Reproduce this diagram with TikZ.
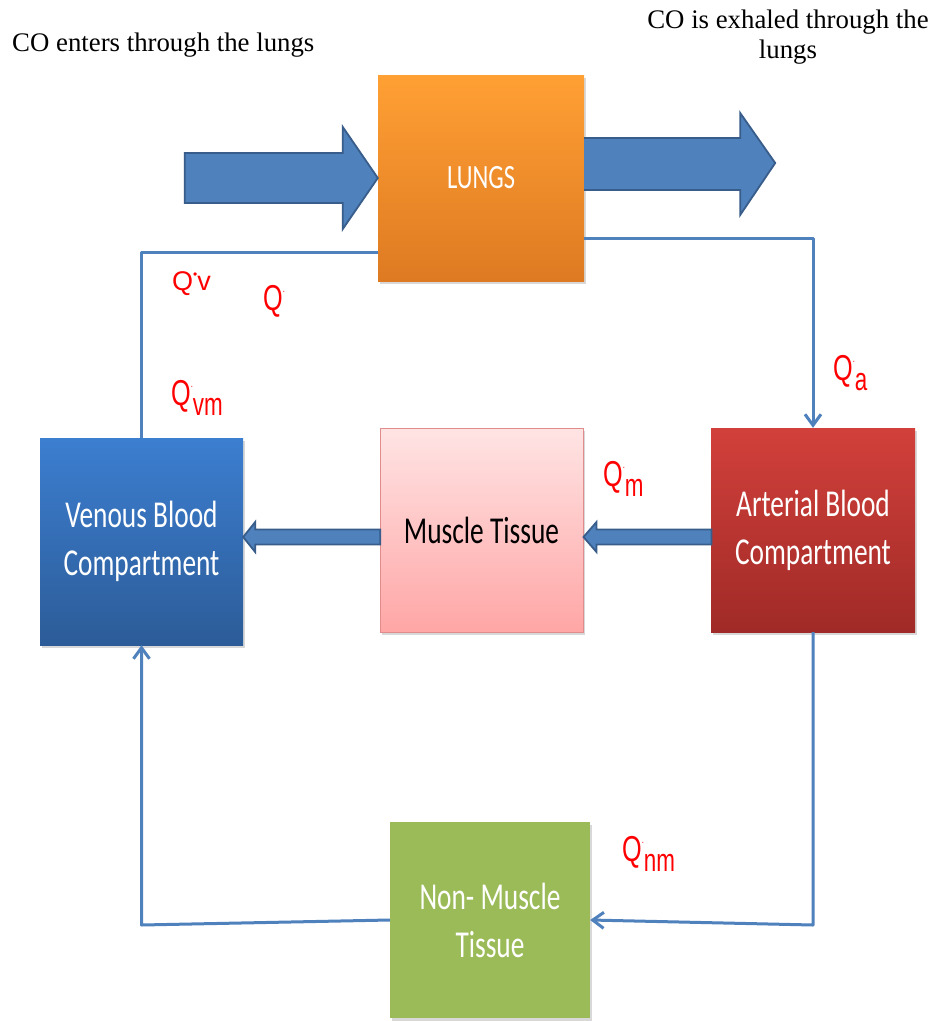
\documentclass[tikz,border=0pt]{standalone}
\usepackage{fontspec}
\setmainfont{Liberation Serif}
\newfontfamily\boxfont[FakeStretch=0.72]{Carlito}
\newfontfamily\qfont[FakeStretch=0.7]{Liberation Sans}
\newfontfamily\qvfont{Liberation Sans}
\usetikzlibrary{shadows,arrows.meta,calc}
\definecolor{flowblue}{HTML}{4F81BD}
\definecolor{flowdark}{HTML}{385D8A}
\definecolor{lungtop}{HTML}{FFA034}
\definecolor{lungbot}{HTML}{DE7A22}
\definecolor{ventop}{HTML}{3C7ED0}
\definecolor{venbot}{HTML}{2C5C98}
\definecolor{mustop}{HTML}{FFE4E4}
\definecolor{musbot}{HTML}{FFA6A6}
\definecolor{musedge}{HTML}{E08C8C}
\definecolor{arttop}{HTML}{D2403B}
\definecolor{artbot}{HTML}{A02A27}
\definecolor{nmgreen}{HTML}{9BBB59}
\newcommand\Qlab[1]{{\qfont\fontsize{36}{36}\selectfont Q\raisebox{0.5em}{\fontsize{11}{11}\selectfont .}\raisebox{-0.28em}{\fontsize{32}{32}\selectfont #1}}}
\begin{document}
\begin{tikzpicture}[x=1pt,y=-1pt,
  box/.style={rectangle, minimum width=204pt, minimum height=205pt, inner sep=0pt,
    align=center, text=white, font=\boxfont\fontsize{38}{48}\selectfont,
    drop shadow={opacity=0.3, shadow xshift=2pt, shadow yshift=-3pt}},
  blockarrow/.style={fill=flowblue, draw=flowdark, line width=1.8pt, line join=miter},
  flow/.style={draw=flowblue, line width=3pt, line join=round},
  flowarrow/.style={flow, -{Straight Barb[length=11pt,width=16pt]}},
  qlab/.style={anchor=base west, text=red, inner sep=0pt},
  toptext/.style={font=\fontsize{26.8}{30}\selectfont, inner sep=0pt, align=center}]
\useasboundingbox (0,0) rectangle (933,1021);
\fill[white] (0,0) rectangle (933,1021);

% boxes
\node[box, top color=lungtop, bottom color=lungbot, minimum width=206pt, minimum height=206pt,
  font=\boxfont\fontsize{34}{36}\selectfont] (lungs) at (481,178) {LUNGS};
\node[box, top color=ventop, bottom color=venbot, minimum width=203pt, minimum height=207pt] (venous) at (141.5,541.5) {Venous Blood\\Compartment};
\node[box, top color=mustop, bottom color=musbot, draw=musedge, line width=1pt, text=black, minimum width=203pt, minimum height=204pt] (muscle) at (481.5,530) {Muscle Tissue};
\node[box, top color=arttop, bottom color=artbot, minimum width=204pt, minimum height=204pt] (arterial) at (813,530) {Arterial Blood\\Compartment};
\node[box, fill=nmgreen, minimum width=200pt, minimum height=196pt] (nonmuscle) at (490,920) {Non- Muscle\\Tissue};

% helper heights
\coordinate (y252) at (0,252);
\coordinate (y238) at (0,238);
\coordinate (y925) at (0,925);

% block arrows at the lungs
\draw[blockarrow, shift={(lungs.west)}] (0,0) -- (-35,-51) -- (-35,-25) -- (-193,-25) -- (-193,25) -- (-35,25) -- (-35,51) -- cycle;
\draw[blockarrow, shift={($(lungs.east)+(0,-15)$)}] (0,-25) -- (156,-25) -- (156,-50) -- (191,0) -- (156,52) -- (156,27) -- (0,27);
% block arrows between compartments
\draw[blockarrow, shift={($(muscle.east)+(0,7)$)}] (0,0) -- (13,-15) -- (13,-7.5) -- (128,-7.5) -- (128,7.5) -- (13,7.5) -- (13,15) -- cycle;
\draw[blockarrow, shift={($(venous.east)+(0,-4.5)$)}] (0,0) -- (12,-15) -- (12,-7.5) -- (137,-7.5) -- (137,7.5) -- (12,7.5) -- (12,15) -- cycle;

% thin flow lines
\draw[flow] (venous.north) |- (lungs.west |- y252);
\draw[flowarrow] (lungs.east |- y238) -| (arterial.north);
\draw[flowarrow] (arterial.south) -- (arterial.south |- y925) -- (nonmuscle.east);
\draw[flowarrow] (nonmuscle.west) -- (venous.south |- y925) -- (venous.south);

% labels
\node[toptext, anchor=west] (intext) at (12,45) {CO enters through the lungs};
\node[toptext] (outtext) at (788,37) {CO is exhaled through the\\lungs};

\node[qlab] (qv) at (172,290) {\qvfont\fontsize{27}{27}\selectfont Q\raisebox{0.42em}{\fontsize{12}{12}\selectfont\textbullet}v};
\node[qlab] (q) at (263,310) {\Qlab{}};
\node[qlab] (qvm) at (171,405) {\Qlab{vm}};
\node[qlab] (qa) at (833,380) {\Qlab{a}};
\node[qlab] (qm) at (603,486) {\Qlab{m}};
\node[qlab] (qnm) at (622,861) {\Qlab{nm}};
\end{tikzpicture}
\end{document}
